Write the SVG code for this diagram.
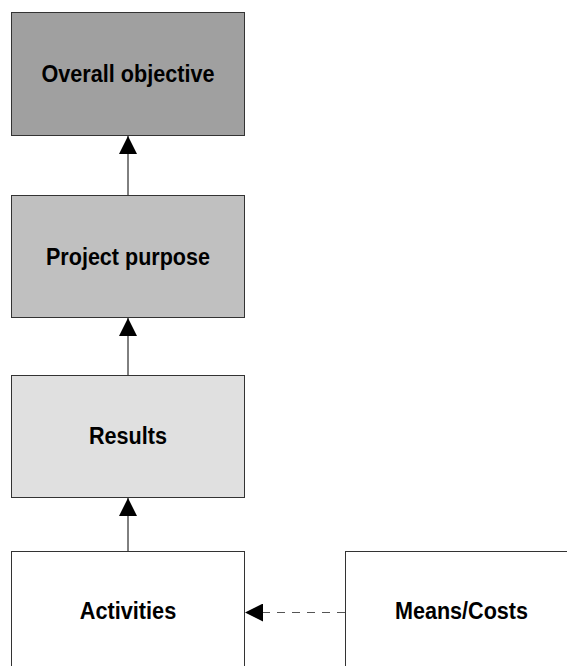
<svg xmlns="http://www.w3.org/2000/svg" width="567" height="666" viewBox="0 0 567 666">
  <style>
    .box { stroke: #333333; stroke-width: 1; }
    .lbl { font-family: "Liberation Sans", Arial, sans-serif; font-weight: bold; font-size: 23px; fill: #000000; text-anchor: middle; }
    .conn { stroke: #000000; stroke-width: 1; fill: none; marker-end: url(#arrow); }
    .dash { stroke: #555555; stroke-dasharray: 8 7; }
  </style>
  <defs>
    <marker id="arrow" markerUnits="userSpaceOnUse" markerWidth="18" markerHeight="18" refX="18" refY="9" orient="auto">
      <path d="M0,0 L18,9 L0,18 Z" fill="#000000"/>
    </marker>
  </defs>
  <rect width="567" height="666" fill="#ffffff"/>
  <g id="overall-objective">
    <rect class="box" x="11.5" y="12.5" width="233" height="123" fill="#a0a0a0"/>
    <text class="lbl" x="128" y="82" textLength="173" lengthAdjust="spacingAndGlyphs">Overall objective</text>
  </g>
  <g id="project-purpose">
    <rect class="box" x="11.5" y="195.5" width="233" height="122" fill="#c0c0c0"/>
    <text class="lbl" x="128" y="264.5" textLength="164" lengthAdjust="spacingAndGlyphs">Project purpose</text>
  </g>
  <g id="results">
    <rect class="box" x="11.5" y="375.5" width="233" height="122" fill="#e0e0e0"/>
    <text class="lbl" x="128" y="444.3" textLength="78" lengthAdjust="spacingAndGlyphs">Results</text>
  </g>
  <g id="activities">
    <rect class="box" x="11.5" y="551.5" width="233" height="130" fill="#ffffff"/>
    <text class="lbl" x="128" y="618.5" textLength="96.5" lengthAdjust="spacingAndGlyphs">Activities</text>
  </g>
  <g id="means-costs">
    <rect class="box" x="345.5" y="551.5" width="233" height="130" fill="#ffffff"/>
    <text class="lbl" x="461.5" y="619" textLength="133" lengthAdjust="spacingAndGlyphs">Means/Costs</text>
  </g>
  <g id="connectors">
    <line class="conn" x1="128" y1="195" x2="128" y2="136"/>
    <line class="conn" x1="128" y1="375" x2="128" y2="318"/>
    <line class="conn" x1="128" y1="551" x2="128" y2="498"/>
    <line class="conn dash" x1="345" y1="612.5" x2="245" y2="612.5"/>
  </g>
</svg>
